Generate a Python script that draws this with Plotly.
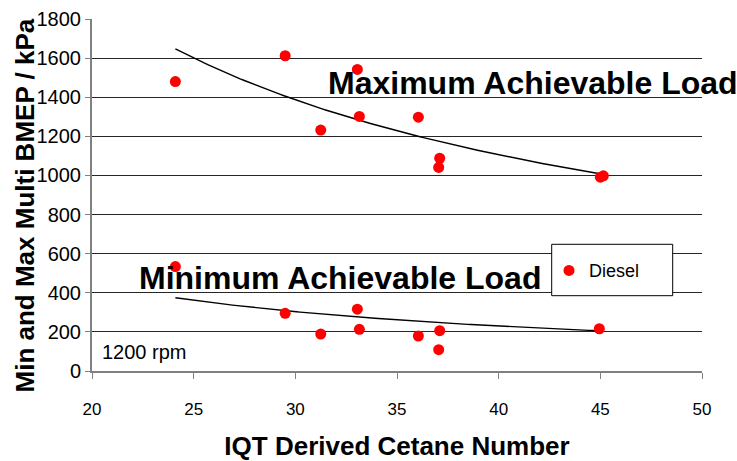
import numpy as np
import plotly.graph_objects as go

# Maximum achievable load (multi-injection BMEP, kPa) vs IQT derived cetane number
cetane_max = [24.1, 29.5, 33.05, 31.25, 33.15, 36.05, 37.1, 37.05, 45.0, 45.15]
bmep_max = [1480, 1612, 1542, 1232, 1302, 1298, 1088, 1041, 991, 998]

# Minimum achievable load
cetane_min = [24.1, 29.5, 33.05, 31.25, 33.15, 36.05, 37.1, 37.05, 44.95]
bmep_min = [534, 295, 316, 189, 213, 179, 206, 109, 216]

# Power-law trend for the minimum load, y = a * x^b
min_trend_coef = [8134.0, -0.967]

x_ticks = [20, 25, 30, 35, 40, 45, 50]
y_ticks = [0, 200, 400, 600, 800, 1000, 1200, 1400, 1600, 1800]

FONT = "Arial, 'Liberation Sans', sans-serif"
RED = "#ff0000"

# Power-law trendline through the maximum-load points (least squares in log space)
b_max, ln_a_max = np.polyfit(np.log(cetane_max), np.log(bmep_max), 1)
x_max_fit = np.linspace(min(cetane_max), max(cetane_max), 120)
y_max_fit = np.exp(ln_a_max) * x_max_fit ** b_max

x_min_fit = np.linspace(min(cetane_min), max(cetane_min), 120)
y_min_fit = min_trend_coef[0] * x_min_fit ** min_trend_coef[1]

fig = go.Figure()

fig.add_trace(go.Scatter(x=x_max_fit, y=y_max_fit, mode="lines",
                         line=dict(color="black", width=1.4),
                         showlegend=False, hoverinfo="skip"))
fig.add_trace(go.Scatter(x=x_min_fit, y=y_min_fit, mode="lines",
                         line=dict(color="black", width=1.4),
                         showlegend=False, hoverinfo="skip"))

fig.add_trace(go.Scatter(x=cetane_max, y=bmep_max, mode="markers",
                         name="Diesel", legendgroup="diesel",
                         marker=dict(color=RED, size=11, line=dict(width=0))))
fig.add_trace(go.Scatter(x=cetane_min, y=bmep_min, mode="markers",
                         name="Diesel", legendgroup="diesel", showlegend=False,
                         marker=dict(color=RED, size=11, line=dict(width=0))))

fig.update_layout(
    width=737, height=461,
    margin=dict(l=92, r=35, t=19, b=90),
    paper_bgcolor="white", plot_bgcolor="white",
    font=dict(family=FONT, color="black"),
    showlegend=True,
    legend=dict(x=(549 - 92) / 610, y=(371 - 270.7) / 352,
                xanchor="left", yanchor="middle",
                bgcolor="rgba(0,0,0,0)", borderwidth=0,
                font=dict(size=18, family=FONT, color="black")),
    xaxis=dict(range=[20, 50], tickvals=x_ticks, showgrid=False, zeroline=False,
               automargin=False,
               showline=True, linecolor="#808080", linewidth=2,
               ticks="outside", ticklen=6, tickcolor="#808080", tickwidth=1,
               tickfont=dict(size=17, family=FONT, color="black"),
               ticklabelstandoff=16,
               title=dict(text="<b>IQT Derived Cetane Number</b>",
                          font=dict(size=26, family=FONT, color="black"),
                          standoff=28)),
    yaxis=dict(range=[0, 1800], tickvals=y_ticks, showgrid=True,
               automargin=False,
               gridcolor="#262626", gridwidth=1, zeroline=False,
               showline=True, linecolor="#808080", linewidth=2,
               ticks="outside", ticklen=5, tickcolor="#808080", tickwidth=1,
               tickfont=dict(size=20, family=FONT, color="black")),
    shapes=[dict(type="rect", xref="paper", yref="paper",
                 x0=(551.7 - 92) / 610, x1=(672.7 - 92) / 610,
                 y0=(371 - 295.7) / 352, y1=(371 - 244.3) / 352,
                 line=dict(color="black", width=1), fillcolor="white",
                 layer="above")],
    annotations=[
        dict(text="<b>Min and Max Multi BMEP / kPa</b>", textangle=-90,
             xref="paper", yref="paper", x=(24.5 - 92) / 610, y=(371 - 206) / 352,
             xanchor="center", yanchor="middle", showarrow=False,
             font=dict(size=26, family=FONT, color="black")),
        dict(text="<b>Maximum Achievable Load</b>", xref="x", yref="y",
             x=31.51, y=1475, xanchor="left", yanchor="middle", showarrow=False,
             font=dict(size=32, family=FONT, color="black")),
        dict(text="<b>Minimum Achievable Load</b>", xref="x", yref="y",
             x=22.2, y=478, xanchor="left", yanchor="middle", showarrow=False,
             font=dict(size=32, family=FONT, color="black")),
        dict(text="1200 rpm", xref="x", yref="y",
             x=20.39, y=99, xanchor="left", yanchor="middle", showarrow=False,
             font=dict(size=20, family=FONT, color="black")),
    ],
)

fig.write_html("out.html")
